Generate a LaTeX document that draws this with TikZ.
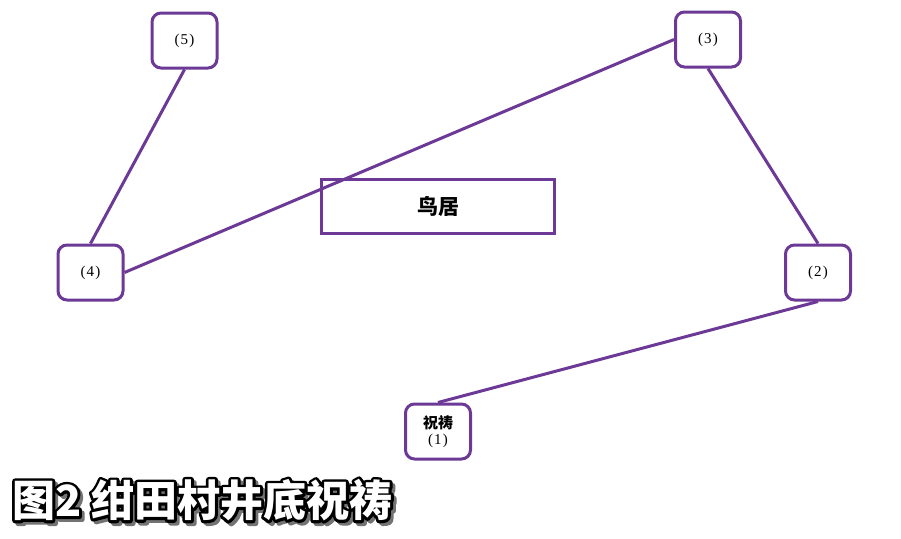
\documentclass[tikz,border=0pt]{standalone}
\usepackage{fontspec}
\setmainfont{Liberation Serif}
\newfontfamily\cjk{Noto Sans CJK SC}
\definecolor{purp}{RGB}{108,58,150}
\newcommand{\strokedtext}[3]{\special{pdf:literal direct #1 Tr #2 w 1 j}#3\special{pdf:literal direct 0 Tr}}
\newcommand{\num}[1]{(\kern1.2pt#1\kern1.2pt)}
\tikzset{
  numbox/.style={draw=purp, line width=3pt, rounded corners=9pt, fill=white,
    minimum width=65pt, minimum height=55pt, inner sep=0pt, font=\fontsize{15}{17}\selectfont, align=center},
  link/.style={draw=purp, line width=3pt},
  titlefont/.style={anchor=west, inner sep=0pt, font=\cjk\bfseries\fontsize{43}{46}\selectfont},
}
\begin{document}
\begin{tikzpicture}[x=1pt,y=-1pt]
\useasboundingbox (0,0) rectangle (901,538);
\fill[white] (0,0) rectangle (901,538);
\node[numbox] (n5) at (184.5,40.5) {\num{5}};
\node[numbox] (n3) at (708,39.5) {\num{3}};
\node[numbox] (n4) at (90.5,272.5) {\num{4}};
\node[numbox] (n2) at (818,272.5) {\num{2}};
\node[numbox] (n1) at (438,431.5) {{\cjk\bfseries 祝祷}\\[-1pt]\num{1}};
\draw[link] (n5.south) -- (n4.north);
\draw[link] (n4.east) -- (n3.west);
\draw[link] (n3.south) -- (n2.north);
\draw[link] (n2.south) -- (n1.north);
\node[draw=purp, line width=3pt, minimum width=233pt, minimum height=54pt, inner sep=0pt,
  font=\cjk\bfseries\fontsize{21}{24}\selectfont] (torii) at (438,206.5) {鸟居};
% title: shadow, outline, fill
\node[titlefont, text=black!55] (shadow) at (15,503) {\strokedtext{2}{5}{图2 绀田村井底祝祷}};
\node[titlefont, text=black] (outline) at (12,500) {\strokedtext{1}{5.5}{图2 绀田村井底祝祷}};
\node[titlefont, text=white] (title) at (12,500) {图2 绀田村井底祝祷};
\end{tikzpicture}
\end{document}
